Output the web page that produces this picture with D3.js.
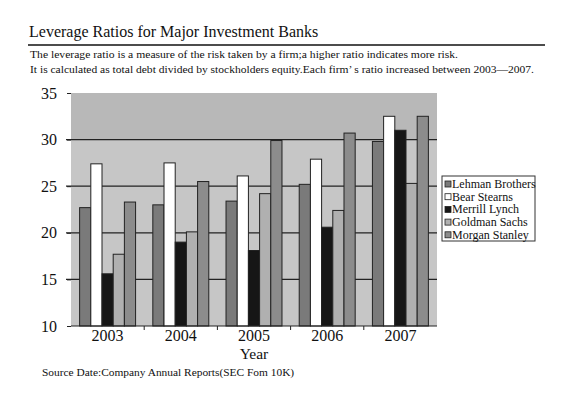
<!DOCTYPE html>
<html><head><meta charset="utf-8">
<script src="https://cdn.jsdelivr.net/npm/d3@7"></script>
<style>body{margin:0;background:#fff}text{font-family:"Liberation Serif","Times New Roman",serif;fill:#111}</style>
</head><body>
<svg id="c" width="566" height="397"></svg>
<script>
const years = ["2003","2004","2005","2006","2007"];
const banks = ["Lehman Brothers","Bear Stearns","Merrill Lynch","Goldman Sachs","Morgan Stanley"];
const lehman  = [22.7, 23.0, 23.4, 25.2, 29.8];
const bear    = [27.4, 27.5, 26.1, 27.9, 32.5];
const merrill = [15.6, 19.0, 18.1, 20.6, 31.0];
const goldman = [17.7, 20.1, 24.2, 22.4, 25.3];
const morgan  = [23.3, 25.5, 29.9, 30.7, 32.5];
const series = [lehman, bear, merrill, goldman, morgan];
const colors = ["#7a7a7a","#ffffff","#161616","#b0b0b0","#8c8c8c"];
const yTicks = [10,15,20,25,30,35];

const svg = d3.select("#c");
const m = {l:71, r:437, t:93, b:326};

// title
svg.append("text").attr("x",29).attr("y",37).attr("font-size",16).text("Leverage Ratios for Major Investment Banks");
svg.append("line").attr("x1",28).attr("x2",545).attr("y1",45).attr("y2",45).attr("stroke","#111").attr("stroke-width",1.6);
svg.append("text").attr("x",30).attr("y",58).attr("font-size",11.4).attr("textLength",428).attr("lengthAdjust","spacingAndGlyphs")
  .text("The leverage ratio is a measure of the risk taken by a firm;a higher ratio indicates more risk.");
svg.append("text").attr("x",30).attr("y",73).attr("font-size",11.4).attr("textLength",504).attr("lengthAdjust","spacingAndGlyphs")
  .text("It is calculated as total debt divided by stockholders equity.Each firm\u2019  s ratio increased between 2003\u20142007.");

const x = d3.scaleBand().domain(years).range([m.l,m.r]).paddingInner(0).paddingOuter(0);
const xi = d3.scaleBand().domain(d3.range(banks.length)).range([0,x.bandwidth()]).paddingInner(0).paddingOuter(0.77);
const y = d3.scaleLinear().domain([10,35]).range([m.b,m.t]);

// plot background
svg.append("rect").attr("x",m.l).attr("y",m.t).attr("width",m.r-m.l).attr("height",m.b-m.t).attr("fill","#c6c6c6");
svg.append("rect").attr("x",m.l).attr("y",y(35)).attr("width",m.r-m.l).attr("height",y(30)-y(35)).attr("fill","#b8b8b8");

// grid
svg.append("g").selectAll("line").data(yTicks.filter(d=>d>10 && d<35)).join("line")
  .attr("x1",m.l-5).attr("x2",m.r).attr("y1",d=>y(d)).attr("y2",d=>y(d)).attr("stroke","#222").attr("stroke-width",1.2);

// bars
const g = svg.append("g").selectAll("g").data(years).join("g").attr("transform",d=>`translate(${x(d)},0)`);
g.selectAll("rect").data((d,i)=>series.map((s,k)=>({k, v:s[i]}))).join("rect")
  .attr("x",d=>xi(d.k)).attr("width",xi.bandwidth())
  .attr("y",d=>y(d.v)).attr("height",d=>y(10)-y(d.v))
  .attr("fill",d=>colors[d.k]).attr("stroke","#222").attr("stroke-width",1);

// axes
const ya = svg.append("g").attr("transform",`translate(${m.l},0)`)
  .call(d3.axisLeft(y).tickValues(yTicks).tickSize(4).tickPadding(10));
ya.select(".domain").remove();
ya.selectAll("line").attr("stroke","#222");
ya.selectAll("text").attr("font-size",16).attr("font-family","Liberation Serif").attr("fill","#111");

svg.append("line").attr("x1",m.l).attr("x2",m.r).attr("y1",m.b).attr("y2",m.b).attr("stroke","#222");
svg.append("g").selectAll("line").data(years.slice(1)).join("line")
  .attr("x1",d=>x(d)).attr("x2",d=>x(d)).attr("y1",m.b).attr("y2",m.b+4).attr("stroke","#222");
svg.append("g").selectAll("text").data(years).join("text")
  .attr("x",d=>x(d)+x.bandwidth()/2).attr("y",m.b+15).attr("text-anchor","middle").attr("font-size",16).text(d=>d);
svg.append("text").attr("x",(m.l+m.r)/2).attr("y",m.b+33).attr("text-anchor","middle").attr("font-size",15.5).text("Year");

svg.append("text").attr("x",42).attr("y",376).attr("font-size",11.4).text("Source Date:Company Annual Reports(SEC Fom 10K)");

// legend
const lg = svg.append("g").attr("transform","translate(442,176)");
lg.append("rect").attr("width",93).attr("height",65).attr("fill","#fff").attr("stroke","#333");
const li = lg.selectAll("g").data(banks).join("g").attr("transform",(d,i)=>`translate(3,${8+i*12.7})`);
li.append("rect").attr("x",0).attr("y",-3).attr("width",6).attr("height",6).attr("fill",(d,i)=>colors[i]).attr("stroke","#222").attr("stroke-width",0.8);
li.append("text").attr("x",7).attr("y",4).attr("font-size",12).text(d=>d);
</script>
</body></html>
